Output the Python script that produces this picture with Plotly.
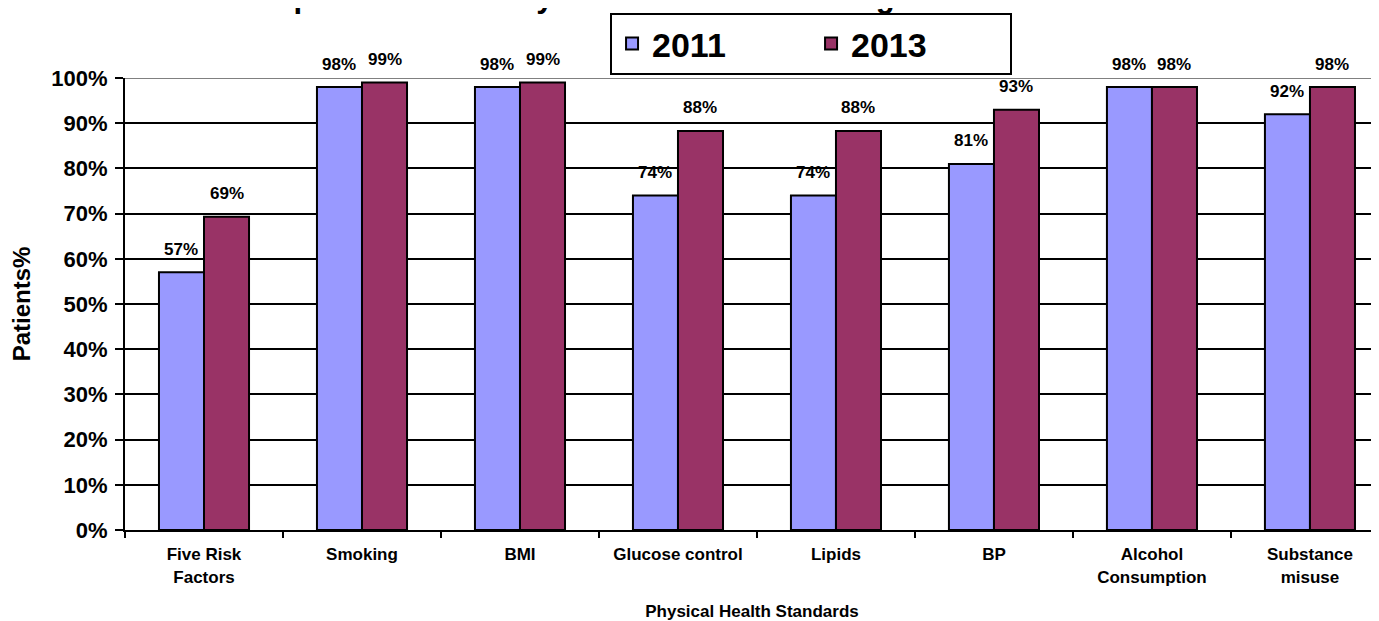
import plotly.graph_objects as go

categories = ["Five Risk<br>Factors", "Smoking", "BMI", "Glucose control", "Lipids", "BP",
              "Alcohol<br>Consumption", "Substance<br>misuse"]
values_2011 = [57, 98, 98, 74, 74, 81, 98, 92]
values_2013 = [69.3, 99, 99, 88.3, 88.3, 93, 98, 98]
series_names = ["2011", "2013"]
y_ticks = [0, 10, 20, 30, 40, 50, 60, 70, 80, 90, 100]

FONT = "Liberation Sans"
C2011 = "#9999FF"
C2013 = "#993366"

# the page body adds an 8px offset; the plot area is cut at the window's right edge
W, H = 1371, 613
ML, MR, MT, MB = 117, 0, 70, 91
X_RANGE = [-0.5, 7.437]
BARGAP = 0.43

fig = go.Figure()
for name, vals, col in [(series_names[0], values_2011, C2011), (series_names[1], values_2013, C2013)]:
    fig.add_trace(go.Bar(
        name=name, x=categories, y=vals,
        marker=dict(color=col, line=dict(color="black", width=2)),
        hoverinfo="x+y",
    ))

# data labels above each bar
cat_px = (W - ML - MR) / (X_RANGE[1] - X_RANGE[0])
bar_px = cat_px * (1 - BARGAP) / 2
for i, cat in enumerate(categories):
    for vals, sh in [(values_2011, -bar_px / 2), (values_2013, bar_px / 2)]:
        fig.add_annotation(
            x=cat, y=vals[i], xref="x", yref="y", text=f"{vals[i]:.0f}%",
            showarrow=False, xshift=sh, yshift=23, yanchor="middle",
            font=dict(family=FONT, size=17, color="black", weight=700),
        )

# grey top line of the plot area
fig.add_shape(type="line", xref="paper", yref="y", x0=0, x1=1, y0=100, y1=100,
              line=dict(color="#808080", width=2), layer="above")

fig.update_layout(
    width=W, height=H,
    margin=dict(l=ML, r=MR, t=MT, b=MB, autoexpand=False),
    paper_bgcolor="white", plot_bgcolor="white",
    barmode="group", bargap=BARGAP, bargroupgap=0,
    title=dict(text="Improvement in Physical Health Monitoring",
               x=0.4143, xanchor="center", xref="container",
               y=1.0, yanchor="bottom", yref="container", pad=dict(b=1),
               font=dict(family=FONT, size=31, color="black", weight=700)),
    legend=dict(orientation="h", x=0.3868, xanchor="left", y=1.1438, yanchor="top",
                bgcolor="white", bordercolor="black", borderwidth=2,
                font=dict(family=FONT, size=34, color="black", weight=700),
                entrywidth=154, entrywidthmode="pixels", tracegroupgap=0),
    showlegend=True,
)

fig.update_xaxes(
    type="category", range=X_RANGE,
    showline=True, linecolor="black", linewidth=2,
    ticks="outside", tickson="boundaries", ticklen=6, tickwidth=2, tickcolor="black",
    ticklabelstandoff=8,
    tickfont=dict(family=FONT, size=17, color="black", weight=700),
    title=dict(text="Physical Health Standards", standoff=22,
               font=dict(family=FONT, size=17, color="black", weight=700)),
    showgrid=False,
)
fig.update_yaxes(
    range=[0, 100], tickvals=y_ticks, ticktext=[f"{t}%" for t in y_ticks],
    showline=True, linecolor="black", linewidth=2,
    ticks="outside", ticklen=8, tickwidth=2, tickcolor="black",
    ticklabelstandoff=3,
    tickfont=dict(family=FONT, size=22, color="black", weight=700),
    showgrid=True, gridcolor="black", gridwidth=1.5,
    zeroline=False,
    title=dict(text="Patients%", standoff=20,
               font=dict(family=FONT, size=24, color="black", weight=700)),
)

fig.write_html("out.html")
